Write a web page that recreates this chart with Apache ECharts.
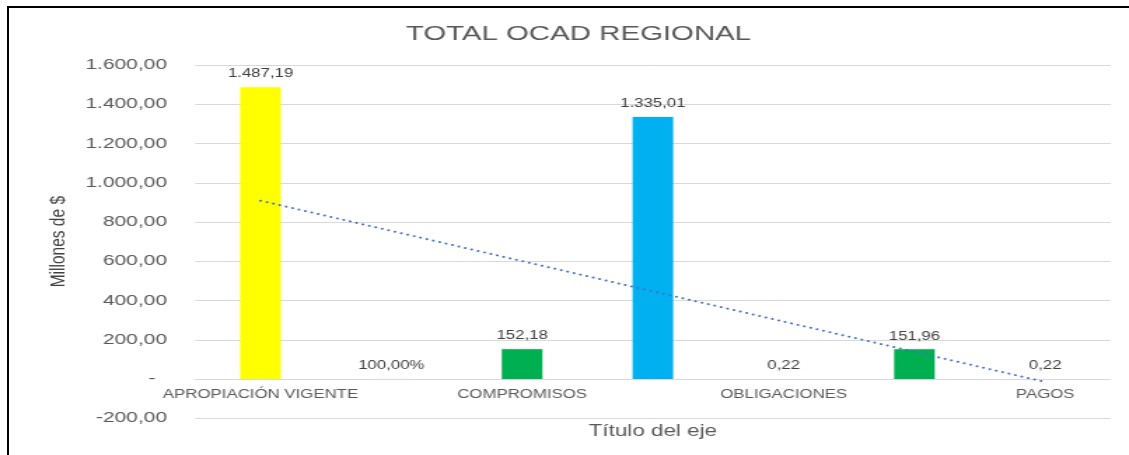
<!DOCTYPE html>
<html>
<head>
<meta charset="utf-8">
<script src="https://cdn.jsdelivr.net/npm/echarts@6/dist/echarts.min.js"></script>
<style>
  html, body { margin: 0; padding: 0; background: #fff; width: 1129px; height: 455px; overflow: hidden; }
  /* chart is laid out narrow and widened horizontally, like a stretched spreadsheet chart */
  #chart { position: absolute; left: 0; top: 0; width: 806px; height: 455px; transform-origin: 0 0; transform: scaleX(1.4007); }
  #frame { position: absolute; left: 7px; top: 6px; width: 1122px; height: 449px; box-sizing: border-box;
           border-left: 2px solid #000; border-top: 2px solid #000; pointer-events: none; }
</style>
</head>
<body>
<div id="chart"></div>
<div id="frame"></div>
<script>
// Budget execution, millions of pesos
const categories = ['APROPIACIÓN VIGENTE', '', 'COMPROMISOS', '', 'OBLIGACIONES', '', 'PAGOS'];
const values     = [1487.19, 1.00, 152.18, 1335.01, 0.22, 151.96, 0.22];
const isPercent  = [false, true, false, false, false, false, false];
const barColors  = ['#FFFF00', '#D9D9D9', '#00B050', '#00B0F0', '#D9D9D9', '#00B050', '#D9D9D9'];
const yMin = -200, yMax = 1600, yStep = 200;

// Spanish number format: 1.487,19
function fmtEs(v) {
  const neg = v < 0;
  const parts = Math.abs(v).toFixed(2).split('.');
  const intPart = parts[0].replace(/\B(?=(\d{3})+(?!\d))/g, '.');
  return (neg ? '-' : '') + intPart + ',' + parts[1];
}

// Linear trend over the category positions
function linearTrend(ys) {
  const n = ys.length;
  const mx = (n - 1) / 2;
  const my = ys.reduce((a, b) => a + b, 0) / n;
  let sxy = 0, sxx = 0;
  ys.forEach((y, i) => { sxy += (i - mx) * (y - my); sxx += (i - mx) * (i - mx); });
  const slope = sxy / sxx;
  return ys.map((_, i) => my + slope * (i - mx));
}
const trend = linearTrend(values);

const gridTop = 65, gridBottom = 36.7, chartH = 455;
const plotH = chartH - gridTop - gridBottom;
// lift the category axis from the bottom edge up to the zero line
const zeroOffset = -plotH * (0 - yMin) / (yMax - yMin);

const grey = '#595959';
const chart = echarts.init(document.getElementById('chart'), null, { renderer: 'canvas' });
chart.setOption({
  animation: false,
  backgroundColor: 'transparent',
  title: {
    text: 'TOTAL OCAD REGIONAL',
    left: 408,
    top: 19,
    textAlign: 'center',
    textStyle: { fontFamily: 'Liberation Sans, Arial, sans-serif', fontSize: 21, fontWeight: 'normal', color: grey }
  },
  grid: { left: 139.3, right: 13.1, top: gridTop, bottom: gridBottom, containLabel: false, outerBoundsMode: 'none' },
  xAxis: {
    type: 'category',
    data: categories,
    offset: zeroOffset,
    name: 'Título del eje',
    nameLocation: 'middle',
    nameGap: 45,
    nameTextStyle: { fontFamily: 'Liberation Sans, Arial, sans-serif', fontSize: 16, color: grey },
    axisLine: { onZero: false, lineStyle: { color: '#D9D9D9', width: 1 } },
    axisTick: { show: false },
    axisLabel: { interval: 0, fontFamily: 'Liberation Sans, Arial, sans-serif', fontSize: 12, color: grey, margin: 10 }
  },
  yAxis: {
    type: 'value',
    min: yMin,
    max: yMax,
    interval: yStep,
    name: 'Millones de $',
    nameLocation: 'middle',
    nameRotate: 90,
    nameGap: 89,
    nameTextStyle: { fontFamily: 'Liberation Sans Narrow, Arial Narrow, sans-serif', fontSize: 15.5, color: '#404040' },
    axisLine: { show: false },
    axisTick: { show: false },
    axisLabel: {
      fontFamily: 'Liberation Sans, Arial, sans-serif',
      fontSize: 15,
      color: grey,
      margin: 20,
      formatter: v => (v === 0 ? '-  ' : fmtEs(v))
    },
    splitLine: { lineStyle: { color: '#D9D9D9', width: 1 } }
  },
  series: [
    {
      type: 'bar',
      barWidth: 29,
      data: values.map((v, i) => ({ value: v, itemStyle: { color: barColors[i] } })),
      label: {
        show: true,
        position: 'top',
        distance: 7,
        fontFamily: 'Liberation Sans, Arial, sans-serif',
        fontSize: 12,
        color: '#404040',
        formatter: p => isPercent[p.dataIndex] ? fmtEs(p.value * 100) + '%' : fmtEs(p.value)
      },
      z: 2
    },
    {
      type: 'line',
      data: trend,
      symbol: 'none',
      silent: true,
      lineStyle: { color: '#4472C4', width: 2, type: [0.1, 4.7], cap: 'round' },
      z: 3
    }
  ]
});
</script>
</body>
</html>
